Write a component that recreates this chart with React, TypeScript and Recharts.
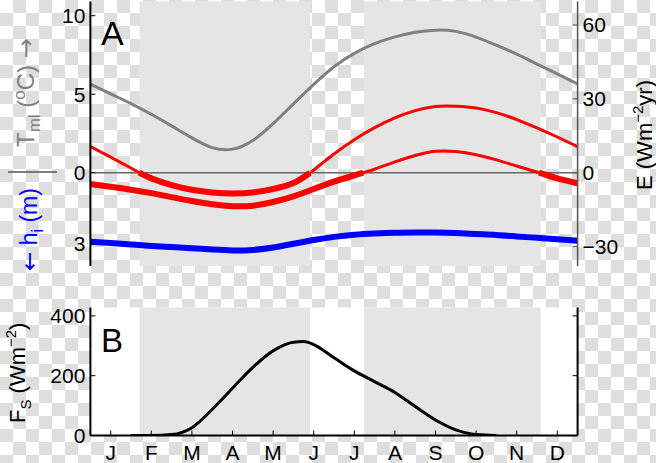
import { LineChart, Line, XAxis, YAxis, ReferenceArea, ReferenceLine } from 'recharts';

const monthLabels = ['J', 'F', 'M', 'A', 'M', 'J', 'J', 'A', 'S', 'O', 'N', 'D'];
const monthTicks = [0.5, 1.5, 2.5, 3.5, 4.5, 5.5, 6.5, 7.5, 8.5, 9.5, 10.5, 11.5];

// sample positions, months since 1 Jan
const months = [0, 0.5, 1, 1.5, 2, 2.5, 3, 3.5, 4, 4.5, 5, 5.5, 6, 6.5, 7, 7.5, 8, 8.5, 9, 9.5, 10, 10.5, 11, 11.5, 12];
// mixed layer temperature (degC)
const tml = [5.65, 5.02, 4.4, 3.72, 2.98, 2.22, 1.6, 1.5, 2.05, 3.12, 4.38, 5.62, 6.75, 7.6, 8.22, 8.65, 8.95, 9.08, 9.0, 8.64, 8.12, 7.55, 6.92, 6.29, 5.65];
// ice thickness (m)
const hIce = [2.9, 2.96, 3.02, 3.08, 3.13, 3.18, 3.23, 3.27, 3.25, 3.15, 2.99, 2.83, 2.7, 2.61, 2.56, 2.53, 2.52, 2.52, 2.54, 2.58, 2.62, 2.68, 2.74, 2.8, 2.86];

// E curves (W m-2 yr), with their zero crossings
const e1Months = [0, 0.5, 1, 1.2, 1.5, 2, 2.5, 3, 3.5, 4, 4.5, 5, 5.41, 5.5, 6, 6.5, 7, 7.5, 8, 8.5, 9, 9.5, 10, 10.5, 11, 11.5, 12];
const e1 = [10.6, 6.3, 1.9, 0, -2.3, -5.0, -6.9, -8.0, -8.4, -8.0, -6.6, -4.2, 0, 1.1, 7.6, 13.4, 18.3, 22.3, 25.2, 26.9, 27.0, 26.3, 24.4, 21.6, 18.2, 14.5, 10.6];
const e2Months = [0, 0.5, 1, 1.5, 2, 2.5, 3, 3.5, 4, 4.5, 5, 5.5, 6, 6.5, 6.72, 7, 7.5, 8, 8.5, 9, 9.5, 10, 10.5, 11.05, 11.5, 12];
const e2 = [-4.6, -5.7, -6.9, -8.3, -9.9, -11.5, -12.8, -13.6, -13.4, -11.9, -9.6, -6.6, -3.6, -1.1, 0, 1.4, 4.4, 7.0, 8.7, 8.6, 7.3, 5.2, 2.7, 0, -2.3, -4.3];

// shortwave flux F_S (W m-2)
const fsMonths = [1, 1.5, 2, 2.5, 3, 3.5, 4, 4.5, 5, 5.25, 5.5, 6, 6.5, 7, 7.5, 8, 8.5, 9, 9.5, 10];
const fs = [0, 0, 3, 26, 87, 158, 228, 283, 312, 314, 304, 260, 216, 180, 144, 97, 52, 19, 3, 0];

const shaded = [[1.21, 5.41], [6.74, 11.09]];

const eTicks = [-30, 0, 30, 60];
const tTicks = [0, 5, 10];
const hTicks = [3];
const fsTicks = [0, 200, 400];

// axis domains chosen so the three top scales share the zero line
const eDomain = [-37.9, 69.55];
const tDomain = [-5.943, 10.904];
const hDomain = [-7.202, 3.925];
const fsDomain = [0, 428];

const hToT = (h: number) => -h * (tDomain[1] - tDomain[0]) / (hDomain[1] - hDomain[0]);
const leftTicks = [...hTicks.map(hToT), ...tTicks];
const leftLabels = [...hTicks.map(String), ...tTicks.map(String)];

const pts = (xs: number[], ys: number[]) => xs.map((m, i) => ({ m, v: ys[i] }));
const part = (xs: number[], ys: number[], neg: boolean) =>
  xs.map((m, i) => ({ m, v: (neg ? ys[i] <= 0 : ys[i] >= 0) ? ys[i] : null }));

const FONT = '"Liberation Sans", Arial, Helvetica, sans-serif';
const ARROW_FONT = '"DejaVu Sans", sans-serif';
const tickStyle = { fill: '#000', fontSize: 21, fontFamily: FONT };

export default function App() {
  const xAxes = (labels: boolean, h: number) => [
    <XAxis key="b" xAxisId="b" type="number" dataKey="m" domain={[0, 12]} ticks={monthTicks}
      allowDataOverflow orientation="bottom" height={h} tickSize={-5} tickMargin={14.5}
      tickFormatter={(v: number, i: number) => (labels ? monthLabels[i] : '')}
      axisLine={{ stroke: '#000', strokeWidth: 2 }} tickLine={{ stroke: '#000' }} tick={tickStyle} interval={0} />,
    <XAxis key="t" xAxisId="t" type="number" dataKey="m" domain={[0, 12]} ticks={monthTicks}
      allowDataOverflow orientation="top" height={0} tickSize={-5} tickFormatter={() => ''}
      axisLine={{ stroke: '#000', strokeWidth: 2 }} tickLine={{ stroke: '#000' }} interval={0} />,
  ];

  return (
    <div style={{
      position: 'absolute', left: 0, top: 0, width: 656, height: 463, overflow: 'hidden',
      backgroundColor: '#fff',
      backgroundImage: 'repeating-conic-gradient(#dedede 0% 25%, #ffffff 0% 50%)',
      backgroundSize: '26px 26px', fontFamily: FONT,
    }}>
      <div style={{ position: 'absolute', left: 0, top: 0 }}>
        <LineChart width={656} height={290} margin={{ top: 1.5, right: 18.4, bottom: 24, left: 30.4 }}>
          {xAxes(false, 0)}
          <YAxis yAxisId="t" orientation="left" width={60} domain={tDomain} ticks={leftTicks} allowDataOverflow
            tickFormatter={(v: number, i: number) => leftLabels[i]} tickSize={-5} tickMargin={10} interval={0}
            axisLine={{ stroke: '#000', strokeWidth: 2 }} tickLine={{ stroke: '#000' }} tick={tickStyle} />
          <YAxis yAxisId="h" hide width={0} orientation="right" domain={hDomain} reversed allowDataOverflow />
          <YAxis yAxisId="e" orientation="right" width={60} domain={eDomain} ticks={eTicks} allowDataOverflow
            tickFormatter={(v: number) => (v < 0 ? '\u2212' + Math.abs(v) : String(v))} tickSize={-5} tickMargin={10} interval={0}
            axisLine={{ stroke: '#555', strokeWidth: 1.5 }} tickLine={{ stroke: '#555' }} tick={tickStyle} />
          {shaded.map(([a, b], i) => (
            <ReferenceArea key={i} xAxisId="b" yAxisId="e" x1={a} x2={b} fill="#e5e5e5" fillOpacity={1} stroke="none" />
          ))}
          <ReferenceLine xAxisId="b" yAxisId="e" y={0} stroke="#666" strokeWidth={1.5} />
          <Line data={pts(months, tml)} dataKey="v" xAxisId="b" yAxisId="t" type="natural" stroke="#808080"
            strokeWidth={3} dot={false} isAnimationActive={false} />
          <Line data={part(e1Months, e1, false)} dataKey="v" xAxisId="b" yAxisId="e" type="natural" stroke="#ff0000"
            strokeWidth={3} dot={false} isAnimationActive={false} />
          <Line data={part(e1Months, e1, true)} dataKey="v" xAxisId="b" yAxisId="e" type="natural" stroke="#ff0000"
            strokeWidth={6} dot={false} isAnimationActive={false} />
          <Line data={part(e2Months, e2, false)} dataKey="v" xAxisId="b" yAxisId="e" type="natural" stroke="#ff0000"
            strokeWidth={3} dot={false} isAnimationActive={false} />
          <Line data={part(e2Months, e2, true)} dataKey="v" xAxisId="b" yAxisId="e" type="natural" stroke="#ff0000"
            strokeWidth={6} dot={false} isAnimationActive={false} />
          <Line data={pts(months, hIce)} dataKey="v" xAxisId="b" yAxisId="h" type="natural" stroke="#0000ff"
            strokeWidth={6} dot={false} isAnimationActive={false} />
        </LineChart>
      </div>
      <div style={{ position: 'absolute', left: 0, top: 290 }}>
        <LineChart width={656} height={173} margin={{ top: 17.5, right: 18.4, bottom: 0, left: 30.4 }}>
          {xAxes(true, 27.5)}
          <YAxis yAxisId="f" orientation="left" width={60} domain={fsDomain} ticks={fsTicks} allowDataOverflow
            tickSize={-5} tickMargin={10} interval={0}
            axisLine={{ stroke: '#000', strokeWidth: 2 }} tickLine={{ stroke: '#000' }} tick={tickStyle} />
          <YAxis yAxisId="r" orientation="right" width={60} domain={fsDomain} ticks={fsTicks} allowDataOverflow
            tickSize={-5} tickFormatter={() => ''} interval={0}
            axisLine={{ stroke: '#000', strokeWidth: 2 }} tickLine={{ stroke: '#000' }} />
          <ReferenceArea xAxisId="b" yAxisId="f" x1={0} x2={12} fill="#fff" fillOpacity={1} stroke="none" />
          {shaded.map(([a, b], i) => (
            <ReferenceArea key={i} xAxisId="b" yAxisId="f" x1={a} x2={b} fill="#e5e5e5" fillOpacity={1} stroke="none" />
          ))}
          <Line data={pts(fsMonths, fs)} dataKey="v" xAxisId="b" yAxisId="f" type="monotone" stroke="#000"
            strokeWidth={3} dot={false} isAnimationActive={false} />
        </LineChart>
      </div>
      <svg width={656} height={463} style={{ position: 'absolute', left: 0, top: 0, pointerEvents: 'none' }}
        fontFamily={FONT}>
        <text x={101} y={45} fontSize={34} fill="#000">A</text>
        <text x={101} y={352} fontSize={33} fill="#000">B</text>
        <text transform="translate(34,147) rotate(-90)" fontSize={24} fill="#808080">
          T<tspan fontSize={17} dy={6}>ml</tspan><tspan dy={-6}> (</tspan><tspan fontSize={17} dy={-9}>o</tspan><tspan dy={9}>C) </tspan><tspan fontFamily={ARROW_FONT}>{'\u2192'}</tspan>
        </text>
        <line x1={8} x2={57} y1={172} y2={172} stroke="#555" strokeWidth={1.5} />
        <text transform="translate(37,271) rotate(-90)" fontSize={23} fill="#0000ff">
          <tspan fontFamily={ARROW_FONT}>{'\u2190'}</tspan> h<tspan fontSize={16} dy={6}>i</tspan><tspan dy={-6}> (m)</tspan>
        </text>
        <text transform="translate(652,190) rotate(-90)" fontSize={22} fill="#000">
          E (Wm<tspan fontSize={15} dy={-9}>{'\u2212'}2</tspan><tspan dy={9}>yr)</tspan>
        </text>
        <text transform="translate(25,423) rotate(-90)" fontSize={22} fill="#000">
          F<tspan fontSize={15} dy={6}>S</tspan><tspan dy={-6}> (Wm</tspan><tspan fontSize={15} dy={-9}>{'\u2212'}2</tspan><tspan dy={9}>)</tspan>
        </text>
      </svg>
    </div>
  );
}
